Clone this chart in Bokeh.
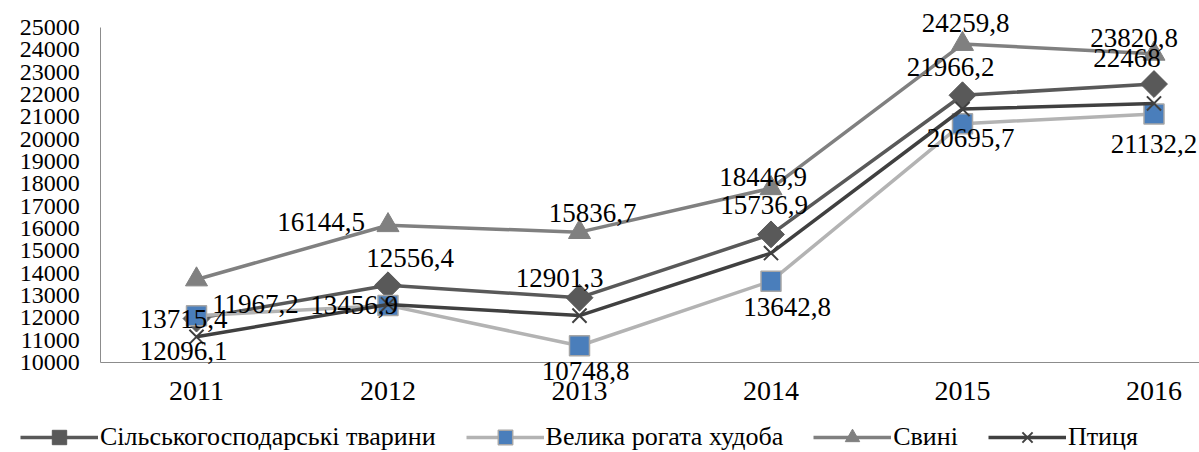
import numpy as np
from bokeh.plotting import figure
from bokeh.models import (Range1d, FixedTicker, ColumnDataSource, LabelSet,
                          Legend, LegendItem, LinearAxis)
from bokeh.core.properties import value
from bokeh.embed import file_html
from bokeh.resources import INLINE

# ---------------- data ----------------
years = ["2011", "2012", "2013", "2014", "2015", "2016"]
livestock = [11967.2, 13456.9, 12901.3, 15736.9, 21966.2, 22468.0]   # Сільськогосподарські тварини
cattle = [12096.1, 12556.4, 10748.8, 13642.8, 20695.7, 21132.2]      # Велика рогата худоба
pigs = [13715.4, 16144.5, 15836.7, 17800.0, 24259.8, 23820.8]        # Свині
poultry = [11150.0, 12600.0, 12100.0, 14900.0, 21350.0, 21600.0]     # Птиця

series_names = ["Сільськогосподарські тварини", "Велика рогата худоба", "Свині", "Птиця"]
y_ticks = list(range(10000, 25001, 1000))

# data labels as printed on the chart (value, year index)
label_values = [13715.4, 11967.2, 12096.1,
                16144.5, 12556.4, 13456.9,
                15836.7, 12901.3, 10748.8,
                18446.9, 15736.9, 13642.8,
                24259.8, 21966.2, 20695.7,
                23820.8, 22468.0, 21132.2]
label_year = [0, 0, 0, 1, 1, 1, 2, 2, 2, 3, 3, 3, 4, 4, 4, 5, 5, 5]

# label placement offsets (screen px, right / down) of the text centre
label_dx = [-13, 59, -13, -67, 22, -34, 13, -20, 6, -8, -7, 16, 3, -12, 8, -20, -27, 0]
label_dy = [39, -15, 35, -3, -47, 20, -19, -20, 25, 3, -29, 26, -21, -28, 14, -16, -26, 30]

# ---------------- styles ----------------
xs = list(range(1, len(years) + 1))
FONT = "Liberation Serif"
styles = [
    dict(line="#595959", marker="square", angle=np.pi / 4, size=19, fill="#595959", mline="#595959", mw=1),
    dict(line="#b3b3b3", marker="square", angle=0.0, size=20, fill="#4a7ebb", mline="#a6a6a6", mw=1.5),
    dict(line="#808080", marker="triangle", angle=0.0, size=22, fill="#808080", mline="#808080", mw=1),
    dict(line="#404040", marker="x", angle=0.0, size=20, fill="#404040", mline="#404040", mw=2),
]
series = [livestock, cattle, pigs, poultry]

# ---------------- figure (frame = whole canvas) ----------------
W, H = 1199, 452
PX_X = 191.5            # px per category step
PX_Y = 335.0 / 15000.0  # px per unit
X0_PX, Y0_PX = 196.0, 362.0   # pixel of (2011, 10000)
x_start = 1 - X0_PX / PX_X
x_end = 1 + (W - X0_PX) / PX_X
y_end = 10000 + Y0_PX / PX_Y
y_start = 10000 - (H - Y0_PX) / PX_Y

p = figure(width=W, height=H, output_backend="svg", toolbar_location=None,
           x_range=Range1d(x_start, x_end), y_range=Range1d(y_start, y_end),
           x_axis_location=None, y_axis_location=None, min_border=0)
p.outline_line_color = None
p.xgrid.visible = False
p.ygrid.visible = False

ya = LinearAxis(fixed_location=0.5, ticker=FixedTicker(ticks=y_ticks),
                bounds=(10000, 25000))
ya.major_label_text_font = FONT
ya.major_label_text_font_size = "24px"
ya.major_label_text_color = "black"
ya.major_tick_out = 0
ya.major_tick_in = 0
ya.minor_tick_out = 0
ya.minor_tick_in = 0
ya.axis_line_color = "#8c8c8c"
ya.major_label_standoff = 21
p.add_layout(ya, "left")

xa = LinearAxis(fixed_location=10000, ticker=FixedTicker(ticks=xs),
                bounds=(0.5, x_end))
xa.major_label_overrides = {x: y for x, y in zip(xs, years)}
xa.major_label_text_font = FONT
xa.major_label_text_font_size = "28px"
xa.major_label_text_color = "black"
xa.major_tick_out = 0
xa.major_tick_in = 0
xa.minor_tick_out = 0
xa.minor_tick_in = 0
xa.axis_line_color = "#8c8c8c"
xa.major_label_standoff = 19
p.add_layout(xa, "below")

items = []
for name, vals, st in zip(series_names, series, styles):
    lr = p.line(xs, vals, line_color=st["line"], line_width=3.5)
    mr = p.scatter(xs, vals, marker=st["marker"], angle=st["angle"], size=st["size"],
                   fill_color=st["fill"], line_color=st["mline"], line_width=st["mw"])
    items.append(LegendItem(label=name, renderers=[lr, mr]))

# data labels (alphabetic baseline: shift anchor down to keep the visual centre)
BASE_SHIFT = 9
lab_src = ColumnDataSource(dict(
    x=[xs[i] for i in label_year],
    y=label_values,
    text=[(f"{v:g}").replace(".", ",") for v in label_values],
    dx=label_dx,
    dy=[-(d + BASE_SHIFT) for d in label_dy],
))
labels = LabelSet(x="x", y="y", text="text", source=lab_src,
                  x_offset="dx", y_offset="dy",
                  text_font=value(FONT), text_font_size=value("27px"),
                  text_color="black",
                  text_align="center", text_baseline="alphabetic")
p.add_layout(labels)

legend = Legend(items=items, orientation="horizontal", location=(20, -3),
                label_text_font=FONT, label_text_font_size="26px",
                label_text_color="black",
                glyph_width=78, glyph_height=36, label_standoff=2,
                spacing=30, padding=0, margin=0,
                border_line_color=None, background_fill_alpha=0)
p.add_layout(legend, "center")

open("out.html", "w").write(file_html(p, INLINE))
